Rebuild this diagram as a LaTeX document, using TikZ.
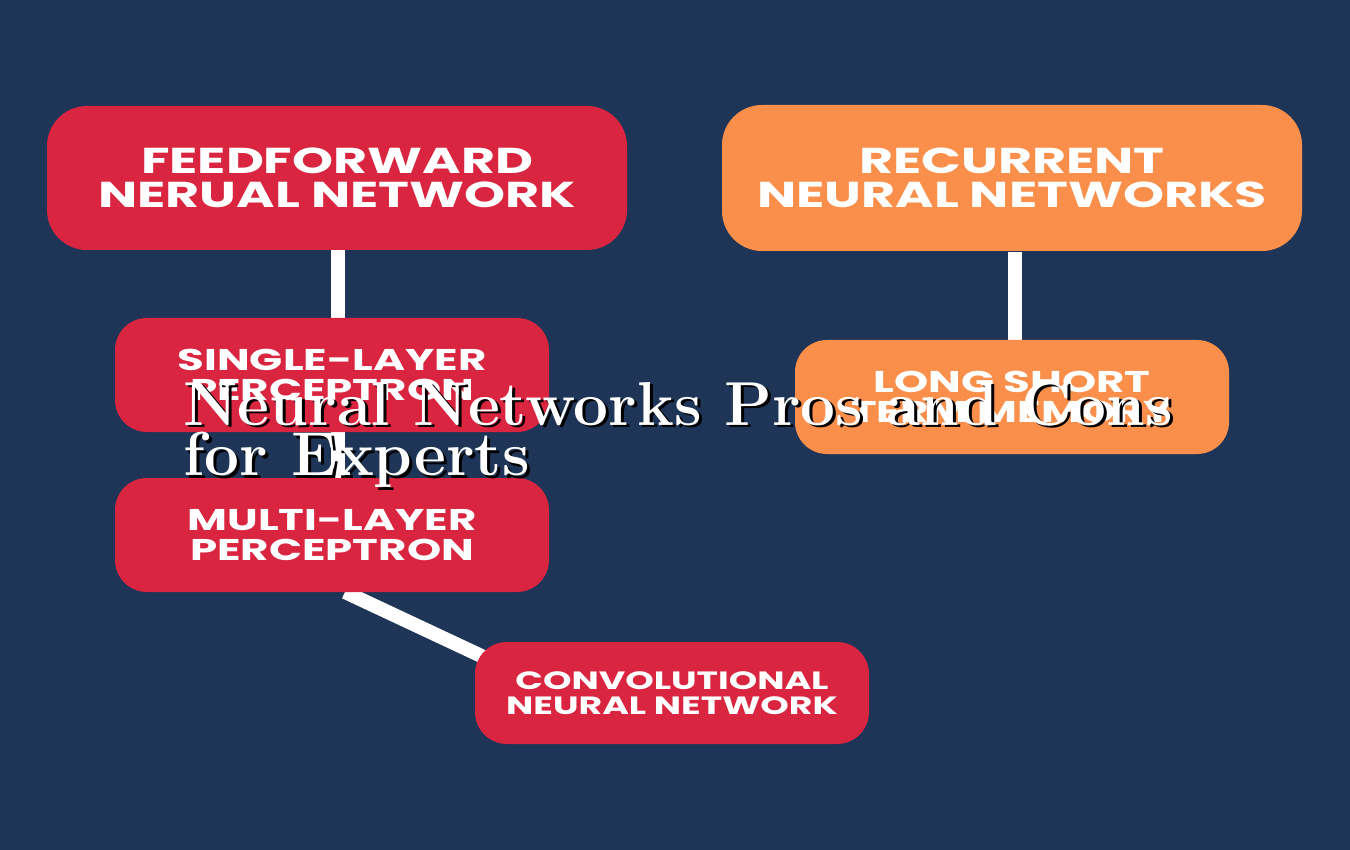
\documentclass[tikz,border=0pt]{standalone}
\usepackage{fontspec}
\newfontfamily\boxfont{Poppins}[BoldFont={* Bold},BoldFeatures={FakeStretch=1.45}]
\definecolor{bg}{HTML}{1E3557}
\definecolor{redb}{HTML}{D9253F}
\definecolor{orab}{HTML}{F98F4A}
\begin{document}
\begin{tikzpicture}[x=0.5pt,y=-0.5pt,
  box/.style={rounded corners=20pt,inner sep=0pt,align=center,text=white,font=\boxfont\bfseries},
  link/.style={draw=white,line width=7pt}]
\fill[bg] (0,0) rectangle (1350,850);
\useasboundingbox (0,0) rectangle (1350,850);
\draw[link] (338,250) coordinate (a1) -- (338,318);
\draw[link] (338,432) -- (338,478);
\draw[link] (345,592) -- (490,660);
\draw[link] (1015,252) -- (1015,340);
\node[box,fill=redb,minimum width=290pt,minimum height=72pt,font=\boxfont\bfseries\fontsize{18}{17}\selectfont] (ff) at (337,178) {FEEDFORWARD\\NERUAL NETWORK};
\node[box,fill=orab,minimum width=290pt,minimum height=73pt,font=\boxfont\bfseries\fontsize{18}{17}\selectfont] (rnn) at (1012,178) {RECURRENT\\NEURAL NETWORKS};
\node[box,fill=redb,minimum width=217pt,minimum height=57pt,rounded corners=16pt,font=\boxfont\bfseries\fontsize{15}{15}\selectfont] (slp) at (332,375) {SINGLE-LAYER\\PERCEPTRON};
\node[box,fill=orab,minimum width=217pt,minimum height=57pt,rounded corners=16pt,font=\boxfont\bfseries\fontsize{15}{15}\selectfont] (lstm) at (1012,397) {LONG SHORT\\TERM MEMORY};
\node[box,fill=redb,minimum width=217pt,minimum height=57pt,rounded corners=16pt,font=\boxfont\bfseries\fontsize{15}{15}\selectfont] (mlp) at (332,535) {MULTI-LAYER\\PERCEPTRON};
\node[box,fill=redb,minimum width=197pt,minimum height=51pt,rounded corners=16pt,font=\boxfont\bfseries\fontsize{12.5}{12.5}\selectfont] (cnn) at (672,693) {CONVOLUTIONAL\\NEURAL NETWORK};
\foreach \c/\dx in {black/1.5pt,white/0pt}{
\node[anchor=base west,text=\c,align=left,inner sep=0pt,font=\bfseries\fontsize{31}{25}\selectfont] (t) at ([xshift=\dx,yshift=-\dx]183,475) {Neural Networks Pros and Cons\\for Experts};}
\end{tikzpicture}
\end{document}
